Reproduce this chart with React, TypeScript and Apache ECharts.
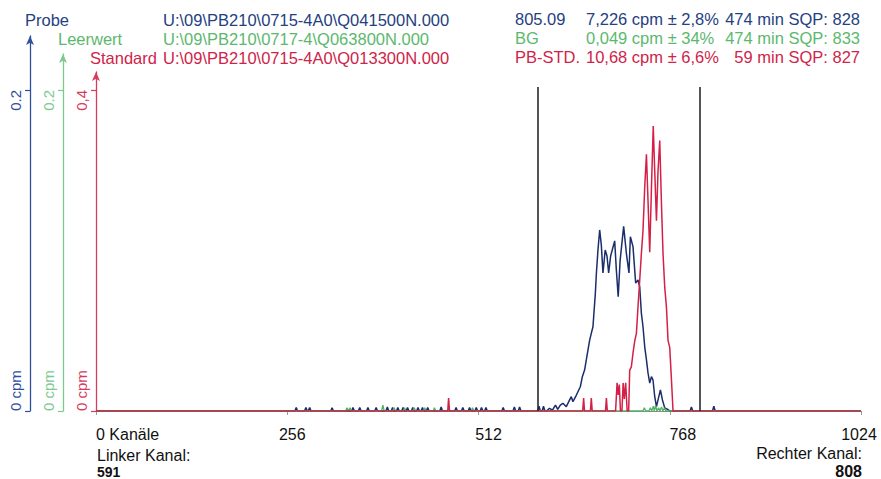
import React, { useEffect, useRef } from "react";
import * as echarts from "echarts";

// ---------------- data ----------------
const channelMin = 0;
const channelMax = 1024;
const xTicks = [0, 256, 512, 768, 1024];
const leftChannel = 591;
const rightChannel = 808;

// Probe (blue) main peak: [channel, cpm]
const probePeak: [number, number][] = [
  [603, 0], [607, 0.0017], [611, 0.0005], [615, 0.0037], [618, 0.001], [621.5, 0.0037],
  [625, 0.0048], [629.5, 0.0027], [634, 0.0069], [636.2, 0.0089], [638.4, 0.0058],
  [642, 0.0089], [645.1, 0.012], [648.3, 0.0151], [651, 0.0214], [654, 0.0255],
  [656.3, 0.0318], [658.5, 0.038], [660.8, 0.0442], [663, 0.0484], [665.2, 0.0525],
  [666.5, 0.0609], [668.4, 0.0733], [669.8, 0.0858], [671.9, 0.1003], [674.2, 0.1128],
  [676.4, 0.1034], [678.6, 0.086], [681.6, 0.1003], [684, 0.0966], [686.2, 0.086],
  [688.9, 0.0966], [692, 0.102], [694.3, 0.106], [696.5, 0.088], [699, 0.0712],
  [701.6, 0.094], [706.3, 0.115], [710, 0.098], [713.4, 0.086], [715.3, 0.1086],
  [718.8, 0.1024], [722.4, 0.0797], [725.5, 0.0816], [727.8, 0.0774], [730, 0.061],
  [732.2, 0.0525], [734.5, 0.04], [736.8, 0.0318], [738.9, 0.0237], [741.2, 0.0174],
  [743.5, 0.0214], [745.6, 0.0193], [747.9, 0.0089], [750.2, 0.0027], [752.3, 0.0069],
  [755.5, 0.0131], [758.2, 0.0069], [761.3, 0.0019], [765.3, 0.001], [768, 0],
];
// Probe small single-channel counts: [channel, cpm]
const probeBumps: [number, number][] = [
  [268, 0.0022], [281, 0.0022], [286, 0.0022], [316, 0.002], [344, 0.0022], [353, 0.0022],
  [364, 0.0022], [375, 0.0022], [390, 0.0025], [397, 0.0022], [404, 0.0022], [411, 0.0022],
  [417, 0.0022], [424, 0.0022], [431, 0.0022], [437, 0.0022], [444, 0.0022], [462, 0.0025],
  [482, 0.0022], [491, 0.0022], [500, 0.0022], [509, 0.0022], [516, 0.0022], [522, 0.0022],
  [545, 0.0022], [560, 0.0025], [567, 0.0025], [593, 0.003], [599, 0.003], [797, 0.0025],
  [827, 0.003],
];

// Standard (red) main peak: [channel, cpm]
const standardPeak: [number, number][] = [
  [695.5, 0], [697.5, 0.035], [699, 0.02], [700.5, 0.033], [702, 0], [704, 0],
  [705.6, 0.035], [707.2, 0.015], [709, 0.035], [711, 0], [713, 0], [714.4, 0.051],
  [716.6, 0.055], [718.8, 0.072], [721.1, 0.087], [723.4, 0.097], [725.5, 0.13],
  [727.8, 0.163], [730, 0.196], [732.2, 0.225], [734.5, 0.279], [736.8, 0.32],
  [738.9, 0.262], [741.2, 0.198], [743.5, 0.278], [745.9, 0.355], [747.9, 0.299],
  [750.2, 0.237], [752.3, 0.299], [754.6, 0.337], [756.9, 0.258], [759, 0.196],
  [761.3, 0.154], [763.6, 0.129], [765.7, 0.088], [768, 0.079], [770.3, 0.0385],
  [772.4, 0],
];
const standardBumps: [number, number][] = [
  [472, 0.016], [652.7, 0.016], [663, 0.016], [683.2, 0.016],
];

// Leerwert (green) small counts
const blankBumps: [number, number][] = [
  [336, 0.002], [340, 0.002], [384, 0.0037], [399, 0.002], [413, 0.002], [426, 0.002],
  [440, 0.002], [453, 0.002], [504, 0.002], [734, 0.002], [742, 0.002], [746, 0.003],
  [749, 0.0035], [753, 0.002], [757, 0.0025], [761, 0.002],
];

// axis scales (labelled top ticks)
const probeTop = 0.2;
const blankTop = 0.2;
const standardTop = 0.4;

// header texts
const headerNames = ["Probe", "Leerwert", "Standard"];
const headerFiles = [
  "U:\\09\\PB210\\0715-4A0\\Q041500N.000",
  "U:\\09\\PB210\\0717-4\\Q063800N.000",
  "U:\\09\\PB210\\0715-4A0\\Q013300N.000",
];
const statNames = ["805.09", "BG", "PB-STD."];
const statRates = ["7,226 cpm ± 2,8%", "0,049 cpm ± 34%", "10,68 cpm ± 6,6%"];
const statTimes = ["474 min SQP: 828", "474 min SQP: 833", "59 min SQP: 827"];

// ---------------- helpers ----------------
function spikes(list: [number, number][], half: number): [number, number][] {
  const out: [number, number][] = [];
  list.forEach(([c, v]) => {
    out.push([c - half, 0], [c, v], [c + half, 0]);
  });
  return out;
}
function assemble(...parts: [number, number][][]): [number, number][] {
  const pts: [number, number][] = [[channelMin, 0]];
  parts.forEach((p) => p.forEach((q) => pts.push(q)));
  pts.push([channelMax, 0]);
  pts.sort((a, b) => a[0] - b[0]);
  return pts;
}

const BLUE_TXT = "#24417f";
const GREEN_TXT = "#5cb86e";
const RED_TXT = "#cf2449";
const BLUE_LINE = "#1b2d6a";
const GREEN_LINE = "#4fb463";
const RED_LINE = "#d41f46";
const BLUE_AX = "#2f4f9c";
const GREEN_AX = "#7ec98f";
const RED_AX = "#d83a60";
const FONT = "Liberation Sans, Arial, sans-serif";

const gridLeft = 96;
const gridRight = 20;
const gridBottom = 68;
// plot baseline at y=411, labelled tick at y=90 (321 px)
const tops = { red: 72, green: 54, blue: 36 };
const pxFull = 321;
const baseY = 411;
const maxFor = (top: number, tickVal: number) => (tickVal * (baseY - top)) / pxFull;

function yAxisFor(
  gridIndex: number,
  offset: number,
  color: string,
  max: number,
  tickVal: number,
  tickText: string
) {
  return {
    type: "value",
    gridIndex,
    position: "left",
    offset,
    min: 0,
    max,
    splitLine: { show: false },
    axisLine: {
      show: true,
      onZero: false,
      symbol: ["none", "arrow"],
      symbolSize: [6, 9],
      lineStyle: { color, width: 1.3 },
    },
    axisTick: {
      show: true,
      customValues: [0, tickVal],
      length: 5,
      lineStyle: { color, width: 1.2 },
    },
    axisLabel: {
      show: true,
      customValues: [0, tickVal],
      formatter: (v: number) => (v === 0 ? "0 cpm" : tickText),
      rotate: 90,
      color,
      fontSize: 15,
      fontFamily: FONT,
      margin: 7,
      alignMinLabel: "left",
      alignMaxLabel: "right",
    },
  };
}

export default function App() {
  const ref = useRef<HTMLDivElement>(null);
  useEffect(() => {
    if (!ref.current) return;
    const chart = echarts.init(ref.current, undefined, { renderer: "svg" });

    const xLabelShift: Record<number, string> = { 0: "z", 256: "a", 512: "b", 768: "c", 1024: "d" };

    const baseX = (gridIndex: number, show: boolean) => ({
      type: "value",
      gridIndex,
      min: channelMin,
      max: channelMax,
      interval: 256,
      show,
      splitLine: { show: false },
      axisLine: { show: true, onZero: false, lineStyle: { color: "#8a8a8a", width: 1 } },
      axisTick: { show: true, length: 4, lineStyle: { color: "#9a9a9a" } },
      axisLabel: {
        show: true,
        color: "#111",
        fontSize: 16,
        fontFamily: FONT,
        margin: 15,
        alignMinLabel: "left",
        formatter: (v: number) => {
          const key = xLabelShift[v] || "a";
          const txt = v === 0 ? "0 Kanäle" : String(xTicks.indexOf(v) >= 0 ? v : v);
          return `{${key}|${txt}}`;
        },
        rich: {
          z: { fontSize: 16, fontFamily: FONT, color: "#111", padding: [0, 0, 0, 0] },
          a: { fontSize: 16, fontFamily: FONT, color: "#111", padding: [0, 0, 0, 10] },
          b: { fontSize: 16, fontFamily: FONT, color: "#111", padding: [0, 0, 0, 20] },
          c: { fontSize: 16, fontFamily: FONT, color: "#111", padding: [0, 0, 0, 26] },
          d: { fontSize: 16, fontFamily: FONT, color: "#111", padding: [0, 4, 0, 0] },
        },
      },
    });

    const graphics: any[] = [];
    const leftX = [25, 58, 90];
    const rowY = [20, 39, 58];
    const leftColors = [BLUE_TXT, GREEN_TXT, RED_TXT];
    headerNames.forEach((n, i) => {
      graphics.push({
        type: "text",
        x: leftX[i],
        y: rowY[i],
        style: { text: n, fill: leftColors[i], fontSize: 16.5, fontFamily: FONT, verticalAlign: "middle", textVerticalAlign: "middle" },
      });
      graphics.push({
        type: "text",
        x: 163,
        y: rowY[i],
        style: { text: headerFiles[i], fill: leftColors[i], fontSize: 16.5, fontFamily: FONT, verticalAlign: "middle", textVerticalAlign: "middle" },
      });
      graphics.push({
        type: "text",
        x: 515,
        y: rowY[i] - 1,
        style: { text: statNames[i], fill: leftColors[i], fontSize: 16.5, fontFamily: FONT, verticalAlign: "middle", textVerticalAlign: "middle" },
      });
      graphics.push({
        type: "text",
        x: 586,
        y: rowY[i] - 1,
        style: { text: statRates[i], fill: leftColors[i], fontSize: 16.5, fontFamily: FONT, verticalAlign: "middle", textVerticalAlign: "middle" },
      });
      graphics.push({
        type: "text",
        x: 860,
        y: rowY[i] - 1,
        style: { text: statTimes[i], fill: leftColors[i], fontSize: 16.5, fontFamily: FONT, align: "right", textAlign: "right", verticalAlign: "middle", textVerticalAlign: "middle" },
      });
    });
    graphics.push(
      { type: "text", x: 97, y: 455, style: { text: "Linker Kanal:", fill: "#111", fontSize: 16, fontFamily: FONT, verticalAlign: "middle", textVerticalAlign: "middle" } },
      { type: "text", x: 97, y: 472, style: { text: String(leftChannel), fill: "#111", fontSize: 14, fontWeight: "bold", fontFamily: FONT, verticalAlign: "middle", textVerticalAlign: "middle" } },
      { type: "text", x: 862, y: 453, style: { text: "Rechter Kanal:", fill: "#111", fontSize: 16, fontFamily: FONT, align: "right", textAlign: "right", verticalAlign: "middle", textVerticalAlign: "middle" } },
      { type: "text", x: 862, y: 471, style: { text: String(rightChannel), fill: "#111", fontSize: 16, fontWeight: "bold", fontFamily: FONT, align: "right", textAlign: "right", verticalAlign: "middle", textVerticalAlign: "middle" } }
    );

    const markTop = (standardTop * (baseY - 87)) / pxFull;

    chart.setOption({
      animation: false,
      backgroundColor: "#ffffff",
      grid: [
        { left: gridLeft, right: gridRight, top: tops.red, bottom: gridBottom },
        { left: gridLeft, right: gridRight, top: tops.green, bottom: gridBottom },
        { left: gridLeft, right: gridRight, top: tops.blue, bottom: gridBottom },
      ],
      xAxis: [baseX(0, true), baseX(1, false), baseX(2, false)],
      yAxis: [
        yAxisFor(0, 0, RED_AX, maxFor(tops.red, standardTop), standardTop, "0,4"),
        yAxisFor(1, 33, GREEN_AX, maxFor(tops.green, blankTop), blankTop, "0.2"),
        yAxisFor(2, 66, BLUE_AX, maxFor(tops.blue, probeTop), probeTop, "0.2"),
      ],
      graphic: graphics,
      series: [
        {
          name: "Probe",
          type: "line",
          xAxisIndex: 2,
          yAxisIndex: 2,
          z: 2,
          symbol: "none",
          data: assemble(probePeak, spikes(probeBumps, 1.8)),
          lineStyle: { color: BLUE_LINE, width: 1.5 },
        },
        {
          name: "Leerwert",
          type: "line",
          xAxisIndex: 1,
          yAxisIndex: 1,
          z: 3,
          symbol: "none",
          data: assemble(spikes(blankBumps, 1.8)),
          lineStyle: { color: GREEN_LINE, width: 1.3 },
        },
        {
          name: "Standard",
          type: "line",
          xAxisIndex: 0,
          yAxisIndex: 0,
          z: 4,
          symbol: "none",
          data: assemble(standardPeak, spikes(standardBumps, 1.2)),
          lineStyle: { color: RED_LINE, width: 1.5 },
          markLine: {
            silent: true,
            symbol: "none",
            label: { show: false },
            lineStyle: { color: "#2a2a2a", width: 1.6, type: "solid" },
            data: [
              [{ coord: [leftChannel, 0] }, { coord: [leftChannel, markTop] }],
              [{ coord: [rightChannel, 0] }, { coord: [rightChannel, markTop] }],
            ],
          },
        },
      ],
    });
    return () => chart.dispose();
  }, []);

  return (
    <div
      ref={ref}
      style={{ position: "absolute", left: 0, top: 0, width: 881, height: 479, background: "#fff" }}
    />
  );
}
